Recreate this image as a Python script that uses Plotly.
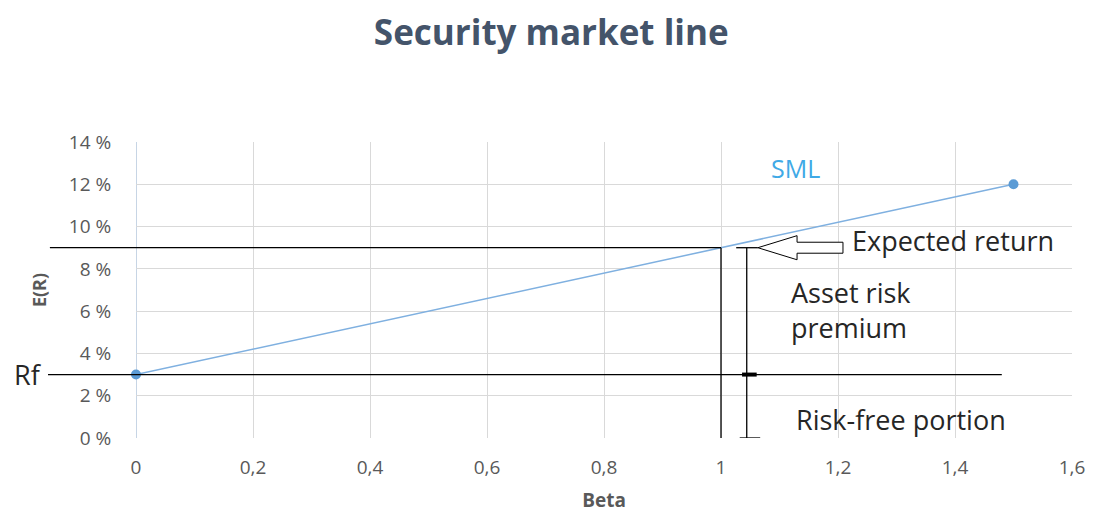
import plotly.graph_objects as go

# Data
beta = [0, 1.5]
expected_return = [3, 12]          # percent
rf = 3                              # risk-free rate, percent
asset_beta = 1.0
asset_return = 9                    # percent
x_ticks = [0, 0.2, 0.4, 0.6, 0.8, 1.0, 1.2, 1.4, 1.6]
y_ticks = [0, 2, 4, 6, 8, 10, 12, 14]
y_tick_labels = ["0 %", "2 %", "4 %", "6 %", "8 %", "10 %", "12 %", "14 %"]

FONT = "Open Sans"
TXT = "#262626"
TICK = "#595959"

fig = go.Figure()
fig.add_trace(go.Scatter(
    x=beta, y=expected_return, mode="lines+markers",
    line=dict(color="#7FB0E0", width=1.5),
    marker=dict(color="#5B9BD5", size=10),
    cliponaxis=False,
    showlegend=False, hoverinfo="skip"))

shapes = []
blk = dict(color="black", width=1.3)
# horizontal line at asset expected return (extends left outside plot)
shapes.append(dict(type="line", xref="paper", yref="y", x0=-0.092, x1=(asset_beta * 585) / 936,
                   y0=asset_return, y1=asset_return, line=blk))
# horizontal Rf line
shapes.append(dict(type="line", xref="paper", yref="y", x0=-0.094, x1=(1.48 * 585) / 936,
                   y0=rf, y1=rf, line=blk))
# vertical line at asset beta
shapes.append(dict(type="line", xref="x", yref="y", x0=asset_beta, x1=asset_beta,
                   y0=asset_return, y1=-0.1, line=blk))
# bracket
bx = 1.044
shapes.append(dict(type="line", xref="x", yref="y", x0=bx, x1=bx, y0=asset_return, y1=0, line=blk))
shapes.append(dict(type="line", xref="x", yref="y", x0=1.026, x1=1.063, y0=asset_return, y1=asset_return, line=blk))
shapes.append(dict(type="line", xref="x", yref="y", x0=1.032, x1=1.067, y0=0, y1=0, line=blk))
shapes.append(dict(type="line", xref="x", yref="y", x0=1.036, x1=1.061, y0=rf, y1=rf,
                   line=dict(color="black", width=4)))
# hollow arrow pointing to expected return
tip = 1.063
path = (f"M {tip},{asset_return} L 1.130,{asset_return + 0.57} L 1.130,{asset_return + 0.26} "
        f"L 1.2085,{asset_return + 0.26} L 1.2085,{asset_return - 0.26} L 1.130,{asset_return - 0.26} "
        f"L 1.130,{asset_return - 0.57} Z")
shapes.append(dict(type="path", xref="x", yref="y", path=path,
                   line=dict(color="black", width=1), fillcolor="white"))

annotations = [
    dict(text="SML", x=(769 - 136) / 585, y=(438 - 168) / 21.14, xref="x", yref="y",
         xanchor="left", yanchor="middle", showarrow=False,
         font=dict(family=FONT, size=25, color="#3FA9E6")),
    dict(text="Expected return", x=(850 - 136) / 585, y=(438 - 241) / 21.14, xref="x", yref="y",
         xanchor="left", yanchor="middle", showarrow=False,
         font=dict(family=FONT, size=27, color=TXT)),
    dict(text="Asset risk<br>premium", x=(789 - 136) / 585, y=(438 - 310) / 21.14, xref="x", yref="y",
         xanchor="left", yanchor="middle", align="left", showarrow=False,
         font=dict(family=FONT, size=27, color=TXT)),
    dict(text="Risk-free portion", x=(794 - 136) / 585, y=(438 - 419) / 21.14, xref="x", yref="y",
         xanchor="left", yanchor="middle", showarrow=False,
         font=dict(family=FONT, size=27, color=TXT)),
    dict(text="Rf", x=(44 - 136) / 936, y=rf, xref="paper", yref="y",
         xanchor="right", yanchor="middle", showarrow=False,
         font=dict(family=FONT, size=27, color=TXT)),
]

fig.update_layout(
    width=1096, height=513,
    margin=dict(l=136, r=24, t=142, b=75),
    paper_bgcolor="white", plot_bgcolor="white",
    separators=", ",
    title=dict(text="<b>Security market line</b>", x=0.503, xanchor="center",
               y=1 - 33 / 513, yanchor="middle",
               font=dict(family=FONT, size=35, color="#44546A")),
    font=dict(family=FONT, color=TICK),
    shapes=shapes, annotations=annotations,
    xaxis=dict(range=[0, 1.6], tickvals=x_ticks, showgrid=True, gridcolor="#D9D9D9",
               zeroline=False, showline=False, automargin=False,
               ticks="outside", ticklen=12, tickcolor="rgba(0,0,0,0)",
               tickfont=dict(family=FONT, size=19, color=TICK),
               title=dict(text="<b>Beta</b>", standoff=24,
                          font=dict(family=FONT, size=19, color=TICK))),
    yaxis=dict(range=[0, 14], tickmode="array", tickvals=y_ticks, ticktext=y_tick_labels,
               showgrid=True, gridcolor="#D9D9D9",
               zeroline=False, showline=False, automargin=False,
               ticks="outside", ticklen=20, tickcolor="rgba(0,0,0,0)",
               tickfont=dict(family=FONT, size=19, color=TICK),
               title=dict(text="<b>E(R)</b>", standoff=17,
                          font=dict(family=FONT, size=18, color=TICK))),
)
fig.add_shape(type="line", xref="x", yref="paper", x0=0, x1=0, y0=0, y1=1,
              line=dict(color="#B4C7DC", width=1.5), layer="below")

fig.write_html("out.html")
